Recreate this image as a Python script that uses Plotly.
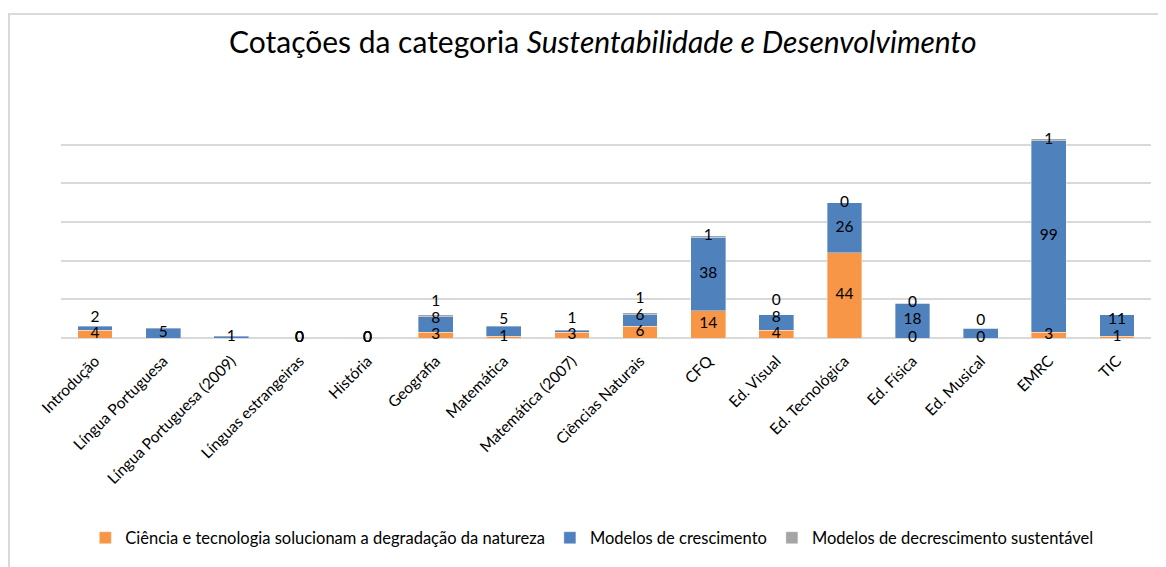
import plotly.graph_objects as go

categories = ["Introdução", "Língua Portuguesa", "Língua Portuguesa (2009)", "Línguas estrangeiras",
              "História", "Geografia", "Matemática", "Matemática (2007)", "Ciências Naturais", "CFQ",
              "Ed. Visual", "Ed. Tecnológica", "Ed. Física", "Ed. Musical", "EMRC", "TIC"]
sol = [4, None, None, 0, 0, 3, 1, 3, 6, 14, 4, 44, 0, 0, 3, 1]
cresc = [2, 5, 1, 0, 0, 8, 5, 1, 6, 38, 8, 26, 18, 5, 99, 11]
decresc = [None, None, None, 0, 0, 1, None, None, 1, 1, 0, 0, 0, 0, 1, None]
cresc_hidden_labels = ["Ed. Musical"]

names = ["Ciência e tecnologia solucionam a degradação da natureza",
         "Modelos de crescimento",
         "Modelos de decrescimento sustentável"]
colors = ["#F79646", "#4F81BD", "#A5A5A5"]
series = [sol, cresc, decresc]

FONT = "Lato"
fig = go.Figure()
for name, col, vals in zip(names, colors, series):
    fig.add_trace(go.Bar(x=categories, y=vals, name=name,
                         marker=dict(color=col, line=dict(color="rgba(255,255,255,0.6)", width=0.6)),
                         hoverinfo="skip"))

# data labels, centered in segments, nudged apart where segments are small
MINSEP = 8.5
lx, ly, lt = [], [], []
for i, cat in enumerate(categories):
    total = sum(v or 0 for v in (sol[i], cresc[i], decresc[i]))
    base = 0.0
    prev = None
    for s, vals in enumerate(series):
        v = vals[i]
        if v is None:
            continue
        y = base + v / 2.0
        base += v
        if s == 1 and cat in cresc_hidden_labels:
            continue
        if total > 0 and prev is not None and y < prev + MINSEP:
            y = prev + MINSEP
        prev = y
        lx.append(cat); ly.append(y); lt.append(str(v))

fig.add_trace(go.Scatter(x=lx, y=ly, text=lt, mode="text", textposition="middle center",
                         textfont=dict(family=FONT, size=15.5, color="#000000"),
                         showlegend=False, hoverinfo="skip", cliponaxis=False))

# page has an 8px body margin; plot area on page spans x 61..1151, y 106..338
fig.update_layout(
    width=1158, height=559,
    barmode="stack", bargap=0.49,
    paper_bgcolor="white", plot_bgcolor="white",
    margin=dict(l=53, r=15, t=98, b=229),
    font=dict(family=FONT, color="#000000"),
    title=dict(text="Cotações da categoria <i>Sustentabilidade e Desenvolvimento</i>",
               x=0.497, xref="paper", xanchor="center", y=1 - 34 / 559, yref="container", yanchor="middle",
               font=dict(family=FONT, size=30, color="#000000")),
    xaxis=dict(tickangle=-45, tickfont=dict(family=FONT, size=15.5, color="#000000"), showline=False,
               showgrid=False, ticks="", fixedrange=True, range=[-0.5, len(categories) - 0.5],
               autorange=False, ticklabelstandoff=10),
    yaxis=dict(range=[0, 120], dtick=20, showticklabels=False, showgrid=True, gridcolor="#D9D9D9",
               gridwidth=1.5, zeroline=True, zerolinecolor="#D9D9D9", zerolinewidth=1.5, ticks=""),
    legend=dict(orientation="h", x=0.487, xanchor="center", y=(338 - 538) / 232, yanchor="middle",
                font=dict(family=FONT, size=16.5, color="#000000"), traceorder="normal",
                itemwidth=30, tracegroupgap=0),
    shapes=[dict(type="rect", xref="paper", yref="paper",
                 x0=(9 - 61) / 1090, x1=(1180 - 61) / 1090,
                 y0=(338 - 580) / 232, y1=(338 - 14) / 232,
                 line=dict(color="#D9D9D9", width=2), fillcolor="rgba(0,0,0,0)", layer="below")],
)

fig.write_html("out.html")
